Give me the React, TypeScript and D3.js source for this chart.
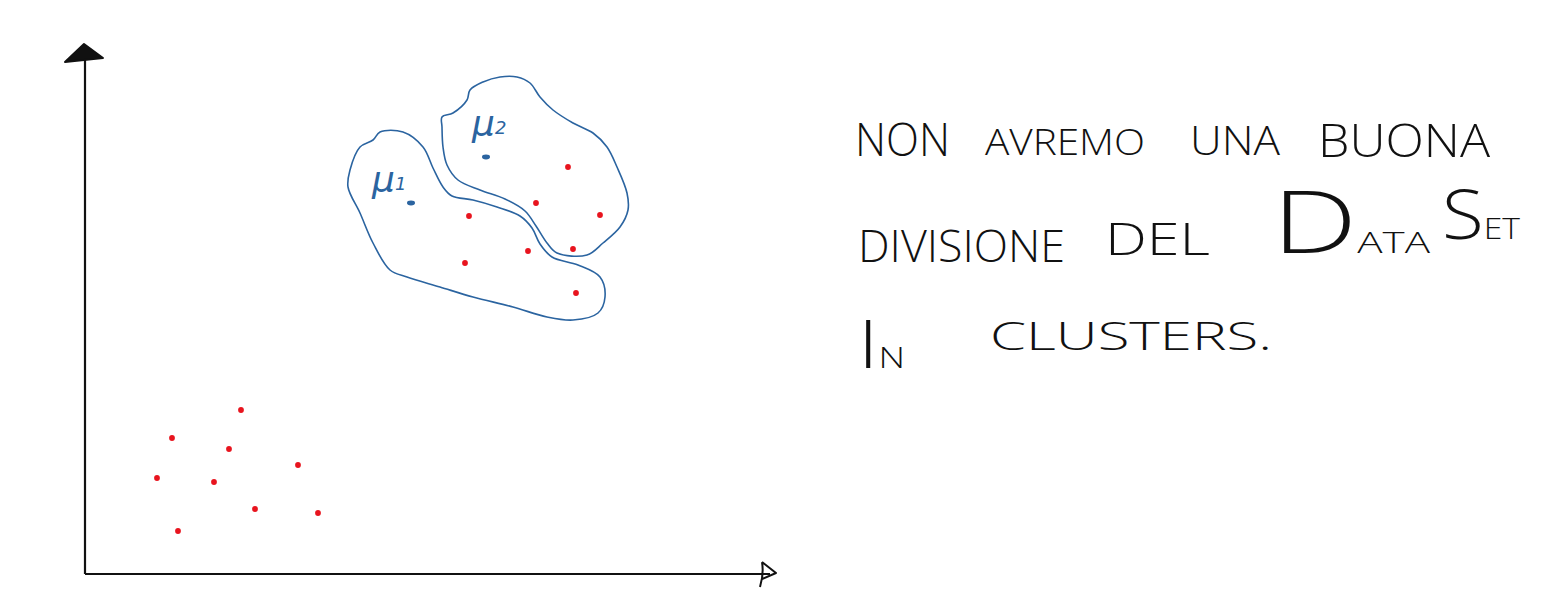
import React from 'react';
import * as d3 from 'd3';

const W = 1562;
const H = 614;

// sample points, in axis units
const farPoints: [number, number][] = [
  [15.6, 16.4], [8.7, 13.6], [14.4, 12.5], [21.3, 10.9], [7.2, 9.6],
  [12.9, 9.2], [17.0, 6.5], [23.3, 6.1], [9.3, 4.3],
];

const nearPoints: [number, number][] = [
  [48.3, 40.7], [45.1, 37.1], [51.5, 35.9], [38.4, 35.8],
  [44.3, 32.3], [48.8, 32.5], [38.0, 31.1], [49.1, 28.1],
];

// centroids with their label anchors
const centroids = [
  { sub: '1', x: 32.6, y: 37.1, lx: 28.7, ly: 38.2 },
  { sub: '2', x: 40.1, y: 41.7, lx: 38.7, ly: 43.8 },
];

// hand drawn cluster outlines
const outline1: [number, number][] = [
  [29.5, 44.2], [31.8, 44.2], [33.8, 42.7], [34.8, 40.6], [35.8, 38.7], [36.7, 37.8],
  [38.8, 37.4], [41.2, 36.7], [43.5, 35.8], [44.7, 34.6], [45.5, 33.0], [46.7, 31.7],
  [49.3, 30.9], [51.5, 29.7], [52.0, 27.7], [51.3, 26.1], [48.8, 25.4], [46.2, 25.7],
  [42.8, 26.7], [38.8, 27.7], [35.5, 28.7], [32.2, 29.7], [30.5, 30.4], [28.8, 33.1],
  [27.5, 36.1], [26.3, 38.7], [26.5, 40.4], [27.5, 42.7], [28.8, 43.4],
];

const outline2: [number, number][] = [
  [35.7, 45.7], [36.8, 46.1], [38.2, 47.4], [38.5, 48.4], [39.8, 49.2], [41.5, 49.7],
  [43.2, 49.7], [44.5, 49.1], [45.5, 47.7], [46.8, 46.4], [48.8, 45.1], [50.8, 44.1],
  [52.2, 42.7], [53.2, 40.7], [54.2, 38.1], [54.3, 36.4], [53.5, 34.7], [51.8, 33.1],
  [50.2, 31.9], [47.2, 32.1], [46.2, 33.1], [45.1, 34.8], [44.0, 36.3], [42.0, 37.5],
  [39.5, 38.4], [37.3, 39.4], [36.2, 40.9], [35.8, 42.7], [35.7, 44.7],
];

const noteWords = ['NON', 'AVREMO', 'UNA', 'BUONA', 'DIVISIONE', 'DEL', 'DATA', 'SET', 'IN', 'CLUSTERS.'];

// where each word sits on the board
const noteLayout = [
  { x: 855, y: 156, size: 46, len: 95 },
  { x: 985, y: 155, size: 36, len: 160 },
  { x: 1190, y: 155, size: 40, len: 90 },
  { x: 1318, y: 157, size: 46, len: 172 },
  { x: 858, y: 262, size: 44, len: 207 },
  { x: 1105, y: 255, size: 44, len: 105 },
  { x: 1272, y: 253, size: 30, big: 86, len: 158 },
  { x: 1442, y: 239, size: 30, big: 68, len: 78 },
  { x: 858, y: 368, size: 30, big: 66, len: 47 },
  { x: 990, y: 350, size: 38, len: 282 },
];

const BLUE = '#2b64a0';
const RED = '#e8141e';
const INK = '#111';

export default function App() {
  const x = d3.scaleLinear().domain([0, 68.5]).range([85, 770]);
  const y = d3.scaleLinear().domain([0, 51.9]).range([574, 55]);

  const blob = d3
    .line<[number, number]>()
    .x((d) => x(d[0]))
    .y((d) => y(d[1]))
    .curve(d3.curveCatmullRomClosed.alpha(0.5));

  const x0 = x(0);
  const y0 = y(0);
  const xEnd = x(68.5);
  const yEnd = y(51.9);

  return (
    <svg
      width={W}
      height={H}
      style={{ position: 'absolute', left: 0, top: 0, background: '#fff' }}
    >
      {/* axes */}
      <line x1={x0} y1={y0} x2={x0} y2={yEnd} stroke={INK} strokeWidth={2.2} />
      <line x1={x0} y1={y0} x2={xEnd} y2={y0} stroke={INK} strokeWidth={2.2} />
      <path
        d={`M${x0 - 20},${yEnd + 7} L${x0 - 1},${yEnd - 11} L${x0 + 18},${yEnd + 3} Z`}
        fill={INK}
        stroke={INK}
        strokeWidth={2}
        strokeLinejoin="round"
      />
      <path
        d={`M${xEnd - 8},${y0 - 12} Q${xEnd - 6},${y0} ${xEnd - 10},${y0 + 13} M${xEnd - 8},${y0 - 12} L${xEnd + 6},${y0 - 1} L${xEnd - 8},${y0 + 5}`}
        fill="none"
        stroke={INK}
        strokeWidth={2}
        strokeLinejoin="round"
      />

      {/* cluster outlines */}
      <path d={blob(outline1) ?? ''} fill="none" stroke={BLUE} strokeWidth={1.6} />
      <path d={blob(outline2) ?? ''} fill="none" stroke={BLUE} strokeWidth={1.6} />

      {/* points */}
      {farPoints.concat(nearPoints).map((p, i) => (
        <circle key={i} cx={x(p[0])} cy={y(p[1])} r={2.9} fill={RED} />
      ))}

      {/* centroids */}
      {centroids.map((c) => (
        <g key={c.sub}>
          <ellipse cx={x(c.x)} cy={y(c.y)} rx={4} ry={2.4} fill={BLUE} />
          <text
            x={x(c.lx)}
            y={y(c.ly)}
            fill={BLUE}
            fontFamily="DejaVu Sans"
            fontWeight={200}
            fontStyle="italic"
            fontSize={36}
          >
            μ<tspan fontSize={18} dy={-2}>{c.sub}</tspan>
          </text>
        </g>
      ))}

      {/* note */}
      {noteWords.map((w, i) => {
        const l = noteLayout[i];
        return (
          <text
            key={w}
            x={l.x}
            y={l.y}
            fill={INK}
            fontFamily="Open Sans"
            fontWeight={300}
            fontSize={l.size}
            textLength={l.len}
            lengthAdjust="spacingAndGlyphs"
          >
            {l.big ? (
              <>
                <tspan fontSize={l.big}>{w[0]}</tspan>
                <tspan>{w.slice(1)}</tspan>
              </>
            ) : (
              w
            )}
          </text>
        );
      })}
    </svg>
  );
}
